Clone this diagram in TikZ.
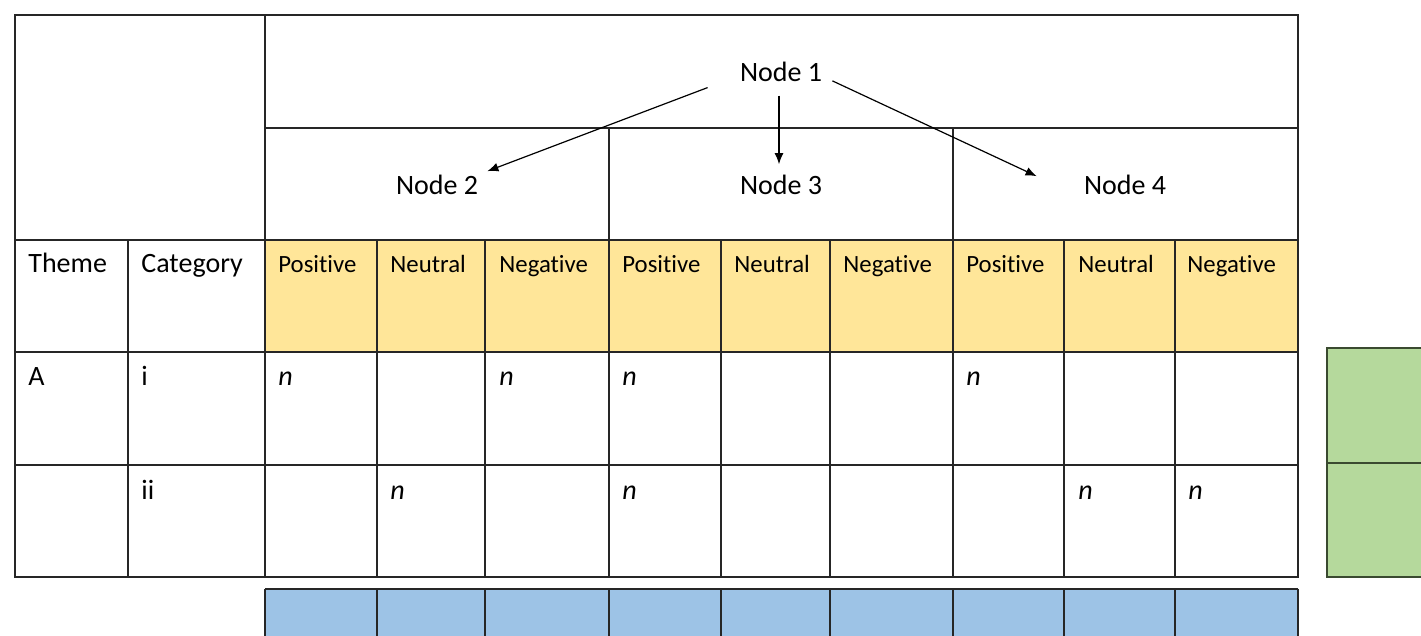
\documentclass[tikz,border=0pt]{standalone}
\usepackage{fontspec}
\setmainfont[Ligatures=NoCommon]{Carlito}
\usetikzlibrary{arrows.meta}
\definecolor{hdryellow}{HTML}{FFE699}
\definecolor{rowblue}{HTML}{9DC3E6}
\definecolor{boxgreen}{HTML}{B5D99C}
\definecolor{boxgreenedge}{HTML}{3A4A30}
\tikzset{
  grid/.style={line width=0.8pt, draw=black!85},
  bigtxt/.style={inner sep=0pt, anchor=base west, font=\fontsize{14}{16}\selectfont},
  hdrtxt/.style={inner sep=0pt, anchor=base west, font=\fontsize{12.4}{14}\selectfont},
  nodetxt/.style={inner sep=0pt, anchor=base, font=\fontsize{14}{16}\selectfont},
  arr/.style={line width=0.6pt, -{Latex[length=5.5pt,width=4.5pt]}},
}
\begin{document}
\begin{tikzpicture}[x=0.5pt, y=-0.5pt]
\useasboundingbox (0,0) rectangle (1421,636);
\fill[white] (0,0) rectangle (1421,636);
% yellow header row
\fill[hdryellow] (265,240) rectangle (1298,352);
% blue row
\fill[rowblue] (265,589) rectangle (1298,640);
\draw[grid] (265,589) -- (1298,589);
\foreach \xx in {265,377,485,609,721,830,953,1064,1175,1298}
  \draw[grid] (\xx,589) -- (\xx,640);
% green box
\fill[boxgreen] (1327,348) rectangle (1430,577);
\draw[grid, draw=boxgreenedge] (1430,348) -- (1327,348) -- (1327,577) -- (1430,577);
\draw[grid, draw=boxgreenedge] (1327,463) -- (1430,463);
% main table
\draw[grid] (15,15) rectangle (1298,577);
\draw[grid] (265,15) -- (265,577);
\draw[grid] (265,128) -- (1298,128);
\draw[grid] (15,240) -- (1298,240);
\draw[grid] (15,352) -- (1298,352);
\draw[grid] (15,465) -- (1298,465);
\draw[grid] (128,240) -- (128,577);
\foreach \xx in {609,953} \draw[grid] (\xx,128) -- (\xx,577);
\foreach \xx in {377,485,721,830,1064,1175} \draw[grid] (\xx,240) -- (\xx,577);
% header nodes
\node[nodetxt] (n1) at (781,82) {Node 1};
\node[nodetxt] (n2) at (437,195) {Node 2};
\node[nodetxt] (n3) at (781,195) {Node 3};
\node[nodetxt] (n4) at (1125,195) {Node 4};
\draw[arr] ([shift={(-32,5)}]n1.south west) -- ([shift={(9,-4)}]n2.north east);
\draw[arr] ([shift={(-2,13)}]n1.south) -- ([shift={(-2,-11)}]n3.north);
\draw[arr] ([shift={(10,8.5)}]n1.east) -- ([shift={(-47,1)}]n4.north west);
% row labels
\node[bigtxt] (theme) at (28,273) {Theme};
\node[bigtxt] (cat) at (141,273) {Category};
\node[hdrtxt] (p1) at (278,273) {Positive};
\node[hdrtxt] (u1) at (390,273) {Neutral};
\node[hdrtxt] (g1) at (499,273) {Negative};
\node[hdrtxt] (p2) at (622,273) {Positive};
\node[hdrtxt] (u2) at (734,273) {Neutral};
\node[hdrtxt] (g2) at (843,273) {Negative};
\node[hdrtxt] (p3) at (966,273) {Positive};
\node[hdrtxt] (u3) at (1078,273) {Neutral};
\node[hdrtxt] (g3) at (1187,273) {Negative};
% row A / i
\node[bigtxt] (ra) at (28,386) {A};
\node[bigtxt] (ri) at (141,386) {i};
\node[bigtxt] (a1) at (278,386) {\textit{n}};
\node[bigtxt] (a2) at (499,386) {\textit{n}};
\node[bigtxt] (a3) at (622,386) {\textit{n}};
\node[bigtxt] (a4) at (966,386) {\textit{n}};
% row ii
\node[bigtxt] (rii) at (141,500) {ii};
\node[bigtxt] (b1) at (390,500) {\textit{n}};
\node[bigtxt] (b2) at (622,500) {\textit{n}};
\node[bigtxt] (b3) at (1078,500) {\textit{n}};
\node[bigtxt] (b4) at (1188,500) {\textit{n}};
\end{tikzpicture}
\end{document}
